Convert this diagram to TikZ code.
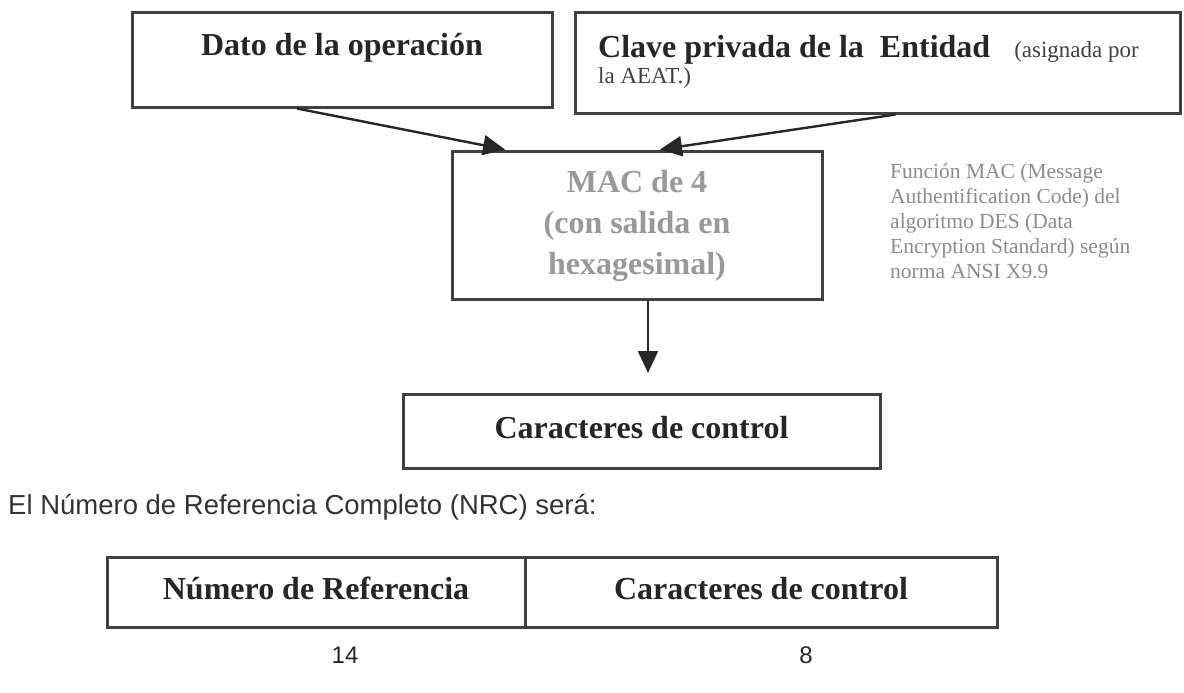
\documentclass[tikz,border=0pt]{standalone}
\usepackage{fontspec}
\setmainfont{Liberation Serif}
\newfontfamily\arialsans{Liberation Sans}
\usetikzlibrary{arrows.meta}

\tikzset{
  caja/.style={draw=black!75,line width=3pt,inner sep=0pt},
  textocaja/.style={font=\fontsize{32}{41}\selectfont\bfseries,text=black!85,inner sep=0pt},
  renglon/.style={text height=22pt,text depth=7pt},
  flecha/.style={-{Triangle[length=22pt,width=20pt]},line width=2.4pt,draw=black!85}
}

\begin{document}
\begin{tikzpicture}[x=1pt,y=-1pt]
\useasboundingbox (0,0) rectangle (1184,693);
\node[caja,minimum width=420pt,minimum height=94pt] (dato) at (342,60) {};
\node[textocaja,anchor=base] (datotxt) at (342,56) {Dato de la operación};
\node[caja,minimum width=605pt,minimum height=100pt] (clave) at (877.5,63) {};
\node[textocaja,anchor=base west] (clavetxt) at (598,58) {Clave privada de la\ \ Entidad\hspace{24pt}{\mdseries\fontsize{23}{25}\selectfont\color{black!75}(asignada por}};
\node[anchor=base west,inner sep=0pt,font=\fontsize{23}{25}\selectfont,text=black!75] (aeat) at (598,84) {la AEAT.)};
\node[caja,minimum width=370pt,minimum height=148pt] (mac) at (637,225) {};
\node[textocaja,text=black!40,align=center] (mactxt) at (637,226) {MAC de 4\\(con salida en\\hexagesimal)};
\node[anchor=north west,inner sep=0pt,align=left,text=black!45,font=\fontsize{21.5}{25}\selectfont] (nota) at (890,163)
  {Función MAC (Message\\Authentification Code) del\\algoritmo DES (Data\\Encryption Standard) según\\norma ANSI X9.9};
\node[caja,textocaja,renglon,minimum width=477pt,minimum height=74pt] (caract) at (641.5,431) {Caracteres de control};
\coordinate (puntaabajo) at (648,373);
\draw[flecha] ([xshift=-45pt]dato.south) -- ([xshift=-132pt]mac.north);
\draw[flecha] ([xshift=18pt]clave.south) -- ([xshift=23pt]mac.north);
\draw[flecha] (mac.south -| puntaabajo) -- (puntaabajo);
\node[anchor=west,inner sep=0pt,font=\arialsans\fontsize{27.5}{30}\selectfont,text=black!80] (nrc) at (8,507) {El Número de Referencia Completo (NRC) será:};
\node[caja,textocaja,renglon,minimum width=418pt,minimum height=70pt] (numref) at (316,592) {Número de Referencia};
\node[caja,textocaja,renglon,minimum width=472pt,minimum height=70pt] (caract2) at (761,592) {Caracteres de control};
\node[font=\arialsans\fontsize{24}{26}\selectfont,text=black!85] (catorce) at (345,655) {14};
\node[font=\arialsans\fontsize{24}{26}\selectfont,text=black!85] (ocho) at (806,655) {8};
\end{tikzpicture}
\end{document}
